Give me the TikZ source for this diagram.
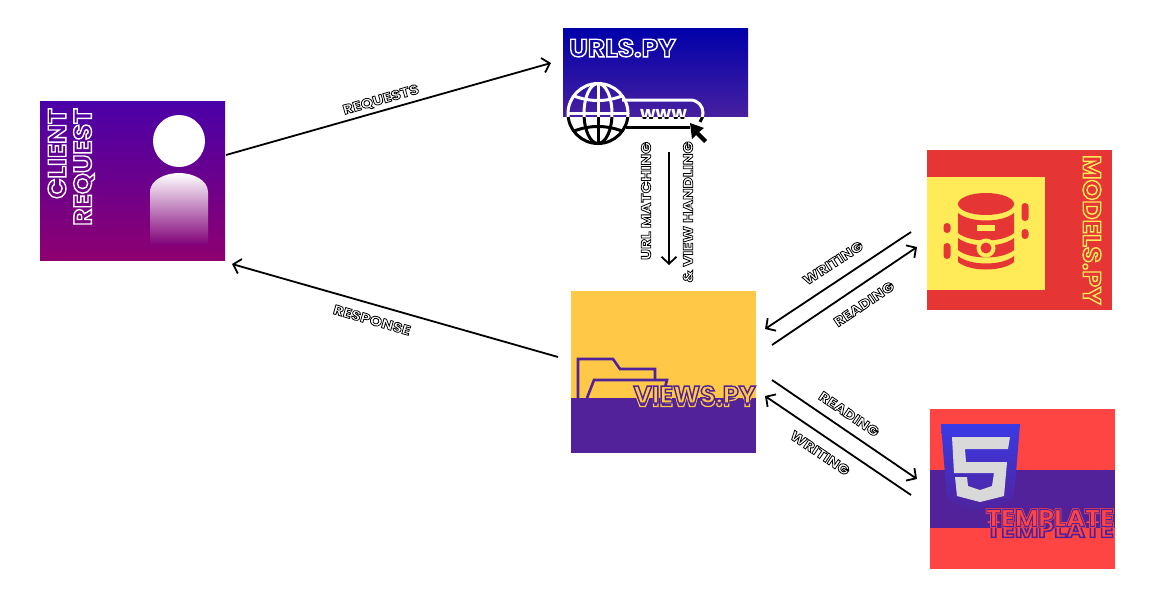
\documentclass[tikz,border=0pt]{standalone}
\usepackage{fontspec}
\setmainfont{Poppins}[BoldFont={Poppins Bold}]
\newfontfamily\labelfont{Poppins Bold}[FakeStretch=1.15]
\newfontfamily\titlefont{Poppins Bold}[FakeStretch=1.06]
\usetikzlibrary{arrows.meta}
\definecolor{clienttop}{HTML}{4A00A8}
\definecolor{clientbot}{HTML}{8E0070}
\definecolor{clientmid}{HTML}{800078}
\definecolor{urlstop}{HTML}{0000AA}
\definecolor{urlsbot}{HTML}{4720A0}
\definecolor{viewsyellow}{HTML}{FFC947}
\definecolor{viewspurple}{HTML}{512299}
\definecolor{modelsred}{HTML}{E53535}
\definecolor{modelsyellow}{HTML}{FFEB58}
\definecolor{tempred}{HTML}{FF4444}
\definecolor{shieldblue}{HTML}{3A3AE6}
\definecolor{fivegray}{HTML}{D9D9D9}
\newcommand{\strokedtext}[3]{{\color{#1}\special{pdf:code 1 Tr #2 w}#3\special{pdf:code 0 Tr}}}
\newcommand{\filledtext}[4]{{\color{#1}\special{pdf:code #2 rg 2 Tr #3 w}#4\special{pdf:code 0 Tr}}}
\newcommand{\arrowlabel}[1]{\filledtext{black}{1 1 1}{0.8}{#1}}
\newcommand{\urlicon}{
  \draw[line width=3pt] (598,113.5) circle (30);
  \draw[line width=3pt] (598,113.5) ellipse (14 and 30);
  \draw[line width=3pt] (598,84) -- (598,143);
  \draw[line width=3pt] (568,113.5) -- (628,113.5);
  \draw[line width=3pt] (574,96) .. controls (590,102) and (606,102) .. (622,96);
  \draw[line width=3pt] (574,131) .. controls (590,125) and (606,125) .. (622,131);
  \draw[line width=3pt] (622,100) -- (690,100) .. controls (698,100) and (703,106) .. (703,113) .. controls (703,116) and (702,119) .. (700,122);
  \draw[line width=3pt] (626,127) -- (690,127);
  \node[name=www,font=\bfseries\fontsize{18}{18}\selectfont,inner sep=0pt,anchor=base] at (663.5,119) {www};
}
\tikzset{
  tile/.style={inner sep=0pt,outer sep=0pt,minimum width=185pt},
  flow/.style={->,>={Straight Barb[length=7pt,width=15pt]},line width=1.8pt},
  flowtext/.style={inner sep=0pt,font=\labelfont\fontsize{13.5}{13.5}\selectfont},
  bigtext/.style={inner sep=0pt,font=\titlefont\fontsize{25}{25}\selectfont},
  bandtext/.style={inner sep=0pt,font=\titlefont\fontsize{24}{24}\selectfont}
}
\begin{document}
\begin{tikzpicture}[x=1pt,y=-1pt]
  \useasboundingbox (0,0) rectangle (1155,597);

  % client
  \node[name=client,tile,minimum height=159.4pt,top color=clienttop,bottom color=clientbot] at (132.5,180.7) {};
  \fill[white] (179,141) circle (26);
  \shade[top color=white,bottom color=clientmid] (150,245) -- (150,192) .. controls (150,180) and (165,173) .. (179,173) .. controls (193,173) and (208,180) .. (208,192) -- (208,245) -- cycle;
  \node[name=clientA,bigtext,rotate=90,anchor=east] at (57,108) {\strokedtext{white}{1.4}{CLIENT}};
  \node[name=clientB,bigtext,rotate=90,anchor=east] at (84,108) {\strokedtext{white}{1.4}{REQUEST}};

  % urls
  \urlicon
  \node[name=urls,tile,minimum height=88.4pt,top color=urlstop,bottom color=urlsbot] at (655.5,72.2) {};
  \begin{scope}[color=white,text=white]
    \clip (563,28) rectangle (748,116.4);
    \urlicon
  \end{scope}
  \fill[black] (690,123) -- (704,128) -- (699,132) -- (707,140) -- (704,143) -- (696,135) -- (692,139) -- cycle;
  \node[name=urlsT,bigtext,anchor=west] at (569,48) {\strokedtext{white}{1.4}{URLS.PY}};

  % views
  \node[name=views,tile,minimum height=162pt,fill=viewsyellow] at (663.5,372) {};
  \fill[viewspurple] (571,398) rectangle (756,453);
  \draw[viewspurple,line width=2.6pt] (578,398) -- (578,359) -- (613,359) -- (620,369) -- (655,369) -- (655,380);
  \draw[viewspurple,line width=2.6pt] (587,398) -- (594,380) -- (667,380) -- (664,391);
  \node[name=viewsS,bandtext,anchor=east] at (756,398) {\strokedtext{viewsyellow}{1.2}{VIEWS.PY}};
  \node[name=viewsT,bandtext,anchor=east] at (756,394.5) {\filledtext{viewspurple}{1 .788 .278}{1.4}{VIEWS.PY}};

  % models
  \node[name=models,tile,minimum height=160pt,fill=modelsred] at (1019.5,230) {};
  \fill[modelsyellow] (927,177) rectangle (1045,290);
  \fill[modelsred] (986,204) ellipse (28 and 11);
  \fill[modelsred] (958,213) .. controls (970,223) and (1002,223) .. (1014,213) -- (1014,233) .. controls (1002,243) and (970,243) .. (958,233) -- cycle;
  \fill[modelsyellow] (977,225) rectangle (995,231);
  \fill[modelsred] (958,238) .. controls (970,248) and (1002,248) .. (1014,238) -- (1014,250) .. controls (1002,260) and (970,260) .. (958,250) -- cycle;
  \fill[modelsyellow] (986,248) circle (9.5);
  \fill[modelsred] (986,248) circle (5.5);
  \fill[modelsred] (958,256) .. controls (970,266) and (1002,266) .. (1014,256) -- (1014,262) .. controls (1002,272) and (970,272) .. (958,262) -- cycle;
  \fill[modelsred,rounded corners=3.4pt] (1021.5,203) rectangle (1028.5,221);
  \fill[modelsred,rounded corners=3.4pt] (1021.5,229) rectangle (1028.5,239);
  \fill[modelsred,rounded corners=3.4pt] (943.5,223) rectangle (950.5,233);
  \fill[modelsred,rounded corners=3.4pt] (943.5,243) rectangle (950.5,259);
  \node[name=modelsT,bigtext,rotate=-90,anchor=west] at (1092,155) {\filledtext{modelsyellow}{.898 .208 .208}{1.4}{MODELS.PY}};

  % template
  \node[name=template,tile,minimum height=160pt,fill=tempred] at (1022.5,489) {};
  \fill[viewspurple] (930,470) rectangle (1115,528);
  \shade[top color=shieldblue,bottom color=viewspurple] (941,424) -- (1020,424) -- (1014,498) -- (980,516) -- (947,500) -- cycle;
  \fill[fivegray] (952,437) -- (1010,437) -- (1008,449) -- (965,449) -- (966,462) -- (1007,462) -- (1004,496) -- (980,502) -- (957,496) -- (955,477) -- (967,477) -- (968,486) -- (980,490) -- (992,486) -- (994,473) -- (954,473) -- cycle;
  \node[name=templateS,bandtext,anchor=east] at (1114,529) {\filledtext{viewspurple}{1 .267 .267}{1.6}{TEMPLATE}};
  \node[name=templateO,bandtext,anchor=east] at (1114,518) {\strokedtext{tempred}{2.4}{TEMPLATE}};
  \node[name=templateT,bandtext,anchor=east] at (1114,518) {\filledtext{viewspurple}{1 .267 .267}{0.9}{TEMPLATE}};

  % flows
  \coordinate (reqA) at (226,155);
  \coordinate (reqB) at (551,63);
  \coordinate (resA) at (558,357);
  \coordinate (resB) at (232,264);
  \coordinate (matA) at (669,152);
  \coordinate (matB) at (669,265);
  \coordinate (wrmA) at (911,232);
  \coordinate (wrmB) at (765,329);
  \coordinate (remA) at (772,345);
  \coordinate (remB) at (917,247);
  \coordinate (retA) at (772,380);
  \coordinate (retB) at (917,479);
  \coordinate (wrtA) at (911,495);
  \coordinate (wrtB) at (765,396);
  \draw[flow] (reqA) -- (reqB);
  \draw[flow] (resA) -- (resB);
  \draw[flow] (matA) -- (matB);
  \draw[flow] (wrmA) -- (wrmB);
  \draw[flow] (remA) -- (remB);
  \draw[flow] (retA) -- (retB);
  \draw[flow] (wrtA) -- (wrtB);

  \node[name=reqL,flowtext,rotate=16] at (381,100) {\arrowlabel{REQUESTS}};
  \node[name=resL,flowtext,rotate=-16] at (372,320) {\arrowlabel{RESPONSE}};
  \node[name=matL,flowtext,rotate=90] at (646,201) {\arrowlabel{URL MATCHING}};
  \node[name=hanL,flowtext,rotate=90] at (688,212) {\arrowlabel{\& VIEW HANDLING}};
  \node[name=wrmL,flowtext,rotate=33] at (833,263) {\arrowlabel{WRITING}};
  \node[name=remL,flowtext,rotate=34] at (864,304) {\arrowlabel{READING}};
  \node[name=retL,flowtext,rotate=-34] at (849,414) {\arrowlabel{READING}};
  \node[name=wrtL,flowtext,rotate=-34] at (820,453) {\arrowlabel{WRITING}};
\end{tikzpicture}
\end{document}
